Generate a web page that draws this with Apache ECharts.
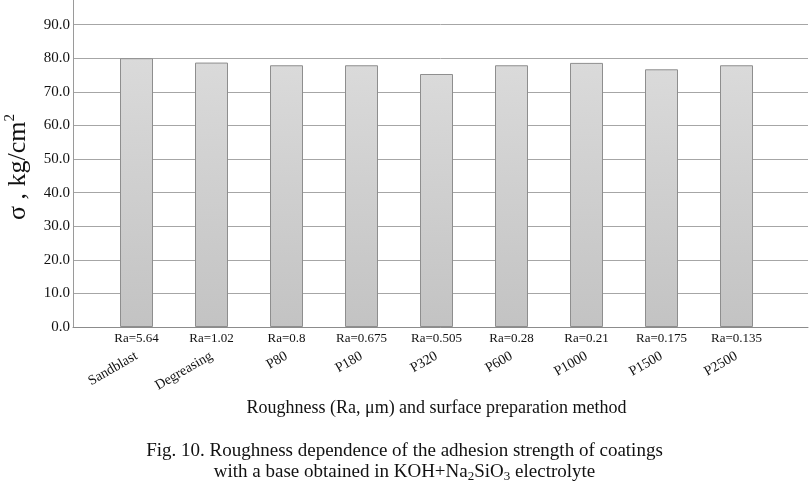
<!DOCTYPE html>
<html>
<head>
<meta charset="utf-8">
<script src="https://cdn.jsdelivr.net/npm/echarts@6/dist/echarts.min.js"></script>
<style>
html,body{margin:0;padding:0;background:#fff;}
#chart{width:809px;height:484px;}
</style>
</head>
<body>
<div id="chart"></div>
<script>
var methods = ['Sandblast','Degreasing','P80','P180','P320','P600','P1000','P1500','P2500'];
var raLabels = ['Ra=5.64','Ra=1.02','Ra=0.8','Ra=0.675','Ra=0.505','Ra=0.28','Ra=0.21','Ra=0.175','Ra=0.135'];
var sigma = [80.0, 78.7, 77.9, 77.9, 75.3, 77.9, 78.6, 76.7, 77.9];

var FONT = "'Liberation Serif','Times New Roman',serif";
var chart = echarts.init(document.getElementById('chart'), null, {renderer:'canvas'});
var option = {
  animation: false,
  backgroundColor: '#ffffff',
  title: [
    {
      left: 'center', top: 437,
      text: 'Fig. 10. Roughness dependence of the adhesion strength of coatings',
      textStyle: {fontFamily: FONT, fontSize: 19, fontWeight: 'normal', color: '#111'}
    },
    {
      left: 'center', top: 456,
      text: 'with a base obtained in KOH+Na{sub|2}SiO{sub|3} electrolyte',
      textStyle: {
        fontFamily: FONT, fontSize: 19, fontWeight: 'normal', color: '#111', lineHeight: 22,
        rich: {sub: {fontFamily: FONT, fontSize: 13, color: '#111', lineHeight: 13, verticalAlign: 'bottom'}}
      }
    }
  ],
  grid: [
    {left: 73, right: 1, top: -9, bottom: 157, containLabel: false, outerBoundsMode: 'none'},
    {left: 99, right: 35, top: -9, bottom: 157, containLabel: false, outerBoundsMode: 'none'}
  ],
  xAxis: [
    {
      gridIndex: 0, type: 'value', min: 0, max: 1,
      axisLine: {show: true, lineStyle: {color: '#8c8c8c', width: 1}},
      axisTick: {show: false}, axisLabel: {show: false}, splitLine: {show: false}
    },
    {
      gridIndex: 1, type: 'category', data: raLabels, position: 'bottom',
      axisLine: {show: false}, axisTick: {show: false}, splitLine: {show: false},
      axisLabel: {interval: 0, margin: 5, fontFamily: FONT, fontSize: 13, color: '#111'}
    },
    {
      gridIndex: 1, type: 'category', data: methods, position: 'bottom',
      name: 'Roughness (Ra, \u03bcm) and surface preparation method',
      nameLocation: 'middle', nameGap: 71,
      nameTextStyle: {fontFamily: FONT, fontSize: 18, color: '#111'},
      axisLine: {show: false}, axisTick: {show: false}, splitLine: {show: false},
      axisLabel: {interval: 0, rotate: 30, margin: 28, fontFamily: FONT, fontSize: 14, color: '#111'}
    }
  ],
  yAxis: [
    {
      gridIndex: 0, type: 'value', min: 0, max: 100, interval: 10,
      name: '\u03c3 , kg/cm{sup|2}',
      nameLocation: 'middle', nameGap: 9, nameRotate: 90,
      nameTextStyle: {
        fontFamily: FONT, fontSize: 26, color: '#111', lineHeight: 30, padding: [0, 16, 0, 0],
        rich: {sup: {fontFamily: FONT, fontSize: 15, color: '#111', lineHeight: 30, verticalAlign: 'top', padding:[0,0,10,0]}}
      },
      axisLine: {show: true, lineStyle: {color: '#9a9a9a', width: 1}},
      axisTick: {show: false},
      axisLabel: {
        margin: 3, fontFamily: FONT, fontSize: 15, color: '#111',
        formatter: function (v) { return v >= 100 ? '' : v.toFixed(1); }
      },
      splitLine: {show: true, lineStyle: {color: '#a6a6a6', width: 1}}
    },
    {
      gridIndex: 1, type: 'value', min: 0, max: 100, interval: 10,
      show: false, splitLine: {show: false}
    }
  ],
  series: [
    {
      type: 'bar', xAxisIndex: 1, yAxisIndex: 1, data: sigma, barWidth: 33,
      itemStyle: {
        color: new echarts.graphic.LinearGradient(0, 0, 0, 1, [
          {offset: 0, color: '#dadada'}, {offset: 1, color: '#c3c3c3'}
        ]),
        borderColor: '#8e8e8e', borderWidth: 1
      }
    }
  ]
};
chart.setOption(option);
</script>
</body>
</html>
